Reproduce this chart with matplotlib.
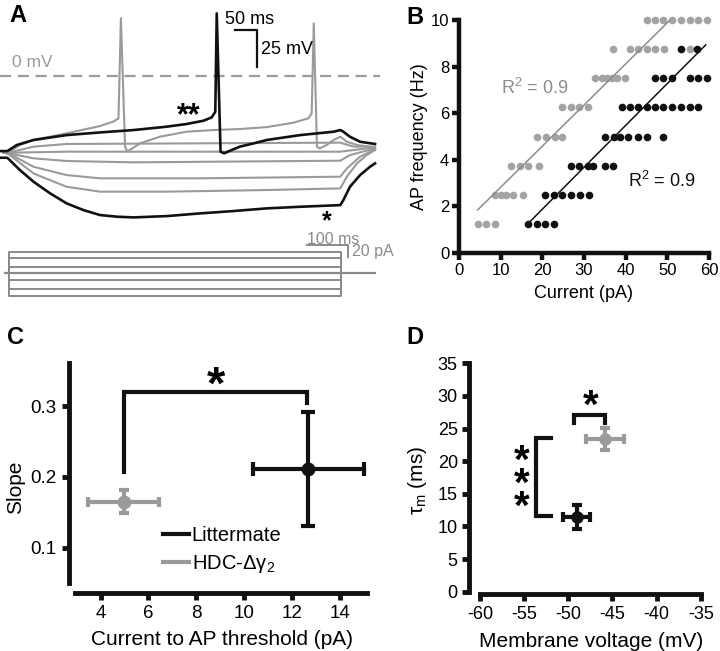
import matplotlib
matplotlib.use('Agg')
import matplotlib.pyplot as plt
from matplotlib.lines import Line2D

plt.rcParams['font.family'] = ['Liberation Sans', 'DejaVu Sans']
plt.rcParams['mathtext.default'] = 'regular'
plt.rcParams['axes.unicode_minus'] = False

BLACK = '#111111'
GREY = '#9a9a9a'
W, H = 720, 651

# ---------------- data ----------------
# A: voltage traces, time (ms) from step onset, membrane potential (mV)
blk_lo_t = [-18, -1.5, 27, 58, 96, 133, 171, 209, 247, 285, 361, 436, 512, 588, 664, 755, 762, 777, 800, 823, 834]
blk_lo_v = [-55.2, -55.2, -63.5, -71.4, -79.3, -86.0, -90.5, -93.9, -95.0, -95.5, -94.6, -92.8, -91.2,
            -89.4, -88.3, -87.2, -83.8, -74.8, -66.9, -61.2, -59.0]
blk_up_t = [-18, -1.5, 20, 58, 133, 209, 285, 361, 406, 444, 463, 471, 474.3, 483, 491, 505, 527, 558,
            588, 664, 740, 755, 762, 777, 800, 834]
blk_up_v = [-50.7, -50.7, -46.6, -43.2, -39.9, -38.1, -36.5, -34.2, -32.4, -30.2, -27.9, -24.1, 42.3,
            -51.1, -52.2, -50.4, -47.7, -45.5, -43.2, -39.9, -37.6, -36.5, -37.6, -41.0, -44.4, -45.9]
gry_sp_t = [-10, 1, 27, 58, 133, 209, 239, 251, 256.5, 266, 271, 300, 345, 406, 467, 527, 588, 649, 683,
            690, 694.8, 702, 708, 724, 740, 755, 770, 793, 834]
gry_sp_v = [-51.8, -51.8, -46.6, -43.2, -38.7, -33.8, -30.8, -28.6, 39.0, -47.7, -51.1, -45.5, -41.0,
            -37.6, -36.5, -35.8, -34.5, -31.5, -28.5, -25.2, 35.6, -47.7, -48.9, -46.6, -43.2, -41.0,
            -44.4, -46.6, -48.2]
gry_traces = [
    ([-10, 1, 58, 133, 209, 361, 588, 755, 770, 793, 815, 834],
     [-51.8, -52.7, -65.8, -74.8, -78.1, -78.1, -77.0, -75.9, -68.0, -59.0, -53.4, -50.0]),
    ([-10, 1, 58, 133, 209, 436, 755, 770, 800, 834],
     [-51.8, -52.2, -61.3, -66.9, -69.1, -69.1, -68.0, -62.4, -54.5, -49.5]),
    ([-10, 1, 58, 133, 285, 755, 777, 834],
     [-51.8, -52.2, -55.6, -57.4, -58.3, -57.2, -53.4, -48.9]),
    ([-10, 1, 133, 755, 834],
     [-51.8, -51.8, -51.1, -51.1, -48.2]),
    ([-10, 1, 58, 133, 755, 785, 834],
     [-51.8, -51.8, -47.7, -45.9, -45.0, -47.7, -47.7]),
]

# A: injected current steps (pA)
step_levels = [36, 25, 9, 0, -12.5, -27, -40]
step_on, step_off = 0, 810
base_start, base_end = -10, 893

# B: AP frequency vs injected current
hdc_levels = [1.25, 2.5, 3.75, 5.0, 6.25, 7.5, 8.75, 10.0]
hdc_currents = [[4.5, 6.6, 8.6],
                [8.6, 10.0, 11.2, 13.0, 15.3],
                [12.6, 14.6, 16.6, 19.3],
                [18.6, 20.8, 23.0, 24.8],
                [24.8, 26.9, 28.8, 30.9],
                [32.6, 34.2, 35.4, 36.6, 37.8, 39.8],
                [37.0, 41.0, 43.0, 45.0, 47.0, 49.2, 55.4],
                [45.0, 47.0, 49.0, 51.2, 53.2, 55.4, 57.4, 59.4]]
lit_levels = [1.25, 2.5, 3.75, 5.0, 6.25, 7.5, 8.75]
lit_currents = [[16.6, 18.6, 20.6, 22.9],
                [20.6, 22.9, 24.8, 26.9, 29.0, 31.1],
                [26.8, 28.8, 30.9, 32.2, 35.0, 37.0],
                [35.0, 37.2, 38.6, 40.6, 43.0, 45.0, 49.0],
                [39.0, 41.0, 43.0, 45.0, 47.0, 49.0, 51.2, 53.2, 55.4, 57.4],
                [47.0, 49.0, 51.2, 55.4, 57.4, 59.4],
                [53.2, 57.2]]
hdc_fit_x, hdc_fit_y = [4.5, 51.8], [1.85, 10.2]
lit_fit_x, lit_fit_y = [17.0, 59.2], [1.34, 8.93]

# C: slope vs current to threshold (mean, sem)
hdc_thr, hdc_thr_err, hdc_slope, hdc_slope_err = 4.97, 1.49, 0.165, 0.016
lit_thr, lit_thr_err, lit_slope, lit_slope_err = 12.68, 2.32, 0.211, 0.081

# D: tau_m vs membrane voltage
lit_vm, lit_vm_err, lit_tau, lit_tau_err = -49.05, 1.5, 11.5, 1.85
hdc_vm, hdc_vm_err, hdc_tau, hdc_tau_err = -45.84, 2.1, 23.4, 1.7


def px_axes(fig, x0, y0, x1, y1):
    return fig.add_axes([x0 / W, 1 - y1 / H, (x1 - x0) / W, (y1 - y0) / H])


def style_axes(ax, lw=3.5):
    for s in ['top', 'right']:
        ax.spines[s].set_visible(False)
    for s in ['left', 'bottom']:
        ax.spines[s].set_linewidth(lw)
        ax.spines[s].set_color(BLACK)
    ax.tick_params(direction='out', length=5, width=lw, color=BLACK)


fig = plt.figure(figsize=(W / 100, H / 100), dpi=100)

# ---------------- A ----------------
axA = px_axes(fig, 0, 0, 390, 230)
axA.set_xlim(-18.2, 868)
axA.set_ylim(-104, 51.35)
axA.axis('off')
axA.plot([-18, 845], [0, 0], color=GREY, lw=1.6, dashes=(5, 3))
for t, v in gry_traces:
    axA.plot(t, v, color=GREY, lw=1.5)
axA.plot(gry_sp_t, gry_sp_v, color=GREY, lw=1.5)
axA.plot(blk_lo_t, blk_lo_v, color=BLACK, lw=1.9)
axA.plot(blk_up_t, blk_up_v, color=BLACK, lw=1.9)
axA.plot([516, 566, 566], [31, 31, 6], color=BLACK, lw=1.6)
axA.text(548, 38.3, '50 ms', ha='center', va='center', fontsize=13)
axA.text(576, 18.2, '25 mV', ha='left', va='center', fontsize=13)
axA.text(8, 9.3, '0 mV', ha='left', va='center', fontsize=12.5, color=GREY)
axA.text(410, -27, '**', ha='center', va='center', fontsize=22, fontweight='bold')
axA.text(724, -97.5, '$*$', ha='center', va='center', fontsize=18, fontweight='bold')

axI = px_axes(fig, 0, 230, 390, 305)
axI.set_xlim(-22, 929)
axI.set_ylim(-55.2, 73)
axI.axis('off')
axI.plot([base_start, base_end], [0, 0], color='#8a8a8a', lw=1.6)
for lev in step_levels:
    axI.plot([step_on, step_on, step_off, step_off], [0, lev, lev, 0], color='#8a8a8a', lw=1.4)
axI.plot([727, 827, 827], [47.4, 47.4, 27.4], color='#8a8a8a', lw=1.4)
axI.text(726, 57.5, '100 ms', ha='left', va='center', fontsize=11.5, color='#8a8a8a')
axI.text(836, 36, '20 pA', ha='left', va='center', fontsize=11.5, color='#8a8a8a')

# ---------------- B ----------------
axB = px_axes(fig, 459, 20, 709, 253)
style_axes(axB, lw=3.2)
for lev, cur in zip(hdc_levels, hdc_currents):
    axB.plot(cur, [lev] * len(cur), 'o', color='#a3a3a3', ms=5.5, mec='none', clip_on=False)
for lev, cur in zip(lit_levels, lit_currents):
    axB.plot(cur, [lev] * len(cur), 'o', color=BLACK, ms=5.5, mec='none', clip_on=False)
axB.plot(hdc_fit_x, hdc_fit_y, color='#8c8c8c', lw=1.1)
axB.plot(lit_fit_x, lit_fit_y, color=BLACK, lw=1.1)
axB.set_xlim(0, 60)
axB.set_ylim(0, 10)
axB.set_xticks(range(0, 61, 10))
axB.set_yticks(range(0, 11, 2))
axB.tick_params(labelsize=12, pad=2)
axB.text(10.2, 7.1, 'R$^2$ = 0.9', color='#8c8c8c', fontsize=13, va='center')
axB.text(40.6, 3.1, 'R$^2$ = 0.9', color=BLACK, fontsize=13, va='center')
axB.set_xlabel('Current (pA)', fontsize=13, va='center')
axB.set_ylabel('AP frequency (Hz)', fontsize=13, va='center')
axB.xaxis.set_label_coords(0.5, -0.175)
axB.yaxis.set_label_coords(-0.156, 0.5)

# ---------------- C ----------------
axC = px_axes(fig, 75, 363, 367, 583)
style_axes(axC)
axC.spines['left'].set_position(('outward', 4.3))
axC.spines['bottom'].set_position(('outward', 7.2))
axC.errorbar(hdc_thr, hdc_slope, xerr=hdc_thr_err, yerr=hdc_slope_err, fmt='o', color=GREY,
             ms=9, elinewidth=3, capsize=3.6, capthick=3)
axC.errorbar(lit_thr, lit_slope, xerr=lit_thr_err, yerr=lit_slope_err, fmt='o', color=BLACK,
             ms=9, elinewidth=3, capsize=4.7, capthick=3)
axC.plot([hdc_thr, hdc_thr, 12.63, 12.63], [0.207, 0.32, 0.32, 0.305], color=BLACK, lw=3,
         solid_joinstyle='miter')
axC.text(8.83, 0.327, '*', ha='center', va='center', fontsize=34, fontweight='bold')
axC.set_xlim(2.93, 15.13)
axC.set_ylim(0.05, 0.361)
axC.set_xticks(range(4, 15, 2))
axC.set_yticks([0.1, 0.2, 0.3])
axC.tick_params(labelsize=13.5, pad=4)
axC.set_xlabel('Current to AP threshold (pA)', fontsize=15, va='center')
axC.set_ylabel('Slope', fontsize=15, va='center')
axC.xaxis.set_label_coords(0.505, -0.259)
axC.yaxis.set_label_coords(-0.205, 0.436)
handles = [Line2D([], [], color=BLACK, lw=3), Line2D([], [], color=GREY, lw=3)]
axC.legend(handles, ['Littermate', 'HDC-Δγ$_2$'], loc='upper left', bbox_to_anchor=(0.30, 0.26),
           frameon=False, fontsize=14.5, handlelength=1.3, handletextpad=0.15, labelspacing=0.4,
           borderpad=0, borderaxespad=0)

# ---------------- D ----------------
axD = px_axes(fig, 480, 363.3, 700.7, 591.7)
style_axes(axD)
axD.spines['left'].set_position(('outward', 8))
axD.spines['bottom'].set_position(('outward', 2))
axD.errorbar(lit_vm, lit_tau, xerr=lit_vm_err, yerr=lit_tau_err, fmt='o', color=BLACK,
             ms=8, elinewidth=3, capsize=3.6, capthick=3)
axD.errorbar(hdc_vm, hdc_tau, xerr=hdc_vm_err, yerr=hdc_tau_err, fmt='o', color=GREY,
             ms=8, elinewidth=3, capsize=3.6, capthick=3)
axD.plot([-52.0, -53.7, -53.7, -52.0], [23.5, 23.5, 11.6, 11.6], color=BLACK, lw=3,
         solid_joinstyle='miter')
axD.plot([-49.3, -49.3, -45.8, -45.8], [25.8, 27.1, 27.1, 25.8], color=BLACK, lw=3,
         solid_joinstyle='miter')
axD.text(-55.3, 16.4, '*\n*\n*', ha='center', va='center', fontsize=29, fontweight='bold',
         linespacing=0.5)
axD.text(-47.5, 28.3, '*', ha='center', va='center', fontsize=29, fontweight='bold')
axD.set_xlim(-60, -35)
axD.set_ylim(0, 35)
axD.set_xticks(range(-60, -34, 5))
axD.set_yticks(range(0, 36, 5))
axD.tick_params(labelsize=13, pad=3)
axD.set_xlabel('Membrane voltage (mV)', fontsize=15, va='center')
axD.set_ylabel('τ$_m$ (ms)', fontsize=15, va='center')
axD.xaxis.set_label_coords(0.502, -0.219)
axD.yaxis.set_label_coords(-0.281, 0.489)

# panel letters
for lab, x, y in [('A', 18, 15), ('B', 415, 17), ('C', 16, 337), ('D', 415, 337)]:
    fig.text(x / W, 1 - y / H, lab, fontsize=17, fontweight='bold', ha='center', va='center')

fig.savefig('out.png', dpi=100)
